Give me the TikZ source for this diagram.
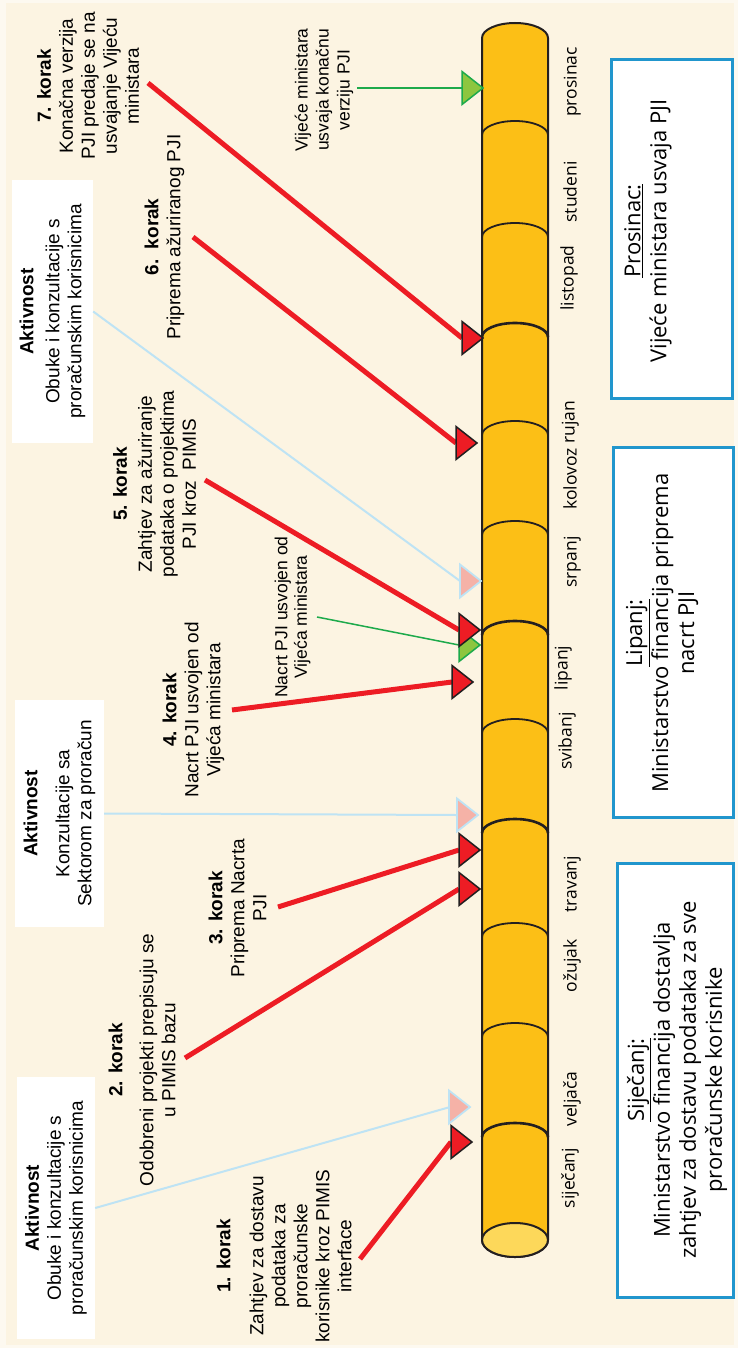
\documentclass[tikz,border=0pt]{standalone}
\usepackage{fontspec}
\setmainfont{Liberation Sans}
\newfontfamily\myr{Open Sans}
\definecolor{bgout}{HTML}{FDF9F0}
\definecolor{bg}{HTML}{FCF4E2}
\definecolor{cyl}{HTML}{FCBF16}
\definecolor{cylend}{HTML}{FDD85A}
\definecolor{dark}{HTML}{231F20}
\definecolor{myred}{HTML}{ED1C24}
\definecolor{mypink}{HTML}{F5B2A7}
\definecolor{lblue}{HTML}{BEE3F4}
\definecolor{mygreen}{HTML}{1DAA4B}
\definecolor{lgreen}{HTML}{8DC63F}
\definecolor{boxblue}{HTML}{2196CD}
\newcommand\tipat[2]{\path[#2] (#1) -- ++(-21,-16.5) -- ++(0,33) -- cycle;}
\tikzset{
 redline/.style={draw=myred, line width=5pt},
 blueline/.style={draw=lblue, line width=2pt},
 greenline/.style={draw=mygreen, line width=1.5pt},
 redtri/.style={fill=myred, draw=dark, line width=1.5pt, line join=miter},
 pinktri/.style={fill=mypink, draw=lblue, line width=1.8pt, line join=miter},
 greentri/.style={fill=lgreen, draw=mygreen, line width=1.5pt, line join=miter},
 lbl/.style={rotate=90, align=center, font=\fontsize{19}{22}\selectfont, inner sep=0pt},
 smalllbl/.style={rotate=90, align=center, font=\fontsize{17.5}{21}\selectfont, inner sep=0pt},
 month/.style={rotate=90, font=\myr\fontsize{17.5}{20}\selectfont, inner sep=0pt, text height=13pt, text depth=4pt},
 boxtxt/.style={rotate=90, align=center, font=\myr\fontsize{22}{26}\selectfont, inner sep=0pt},
 actbox/.style={rotate=90, align=center, fill=white, inner sep=0pt, font=\fontsize{19}{22}\selectfont},
 infobox/.style={rotate=90, draw=boxblue, line width=3pt, fill=white, inner sep=0pt},
 divider/.style={draw=dark, line width=1.8pt},
 qdivider/.style={draw=dark, line width=2.6pt},
}
\begin{document}
\begin{tikzpicture}[x=1pt,y=-1pt]
\useasboundingbox (0,0) rectangle (738,1348);
\fill[bgout] (0,0) rectangle (738,1348);
\fill[bg] (6,3) rectangle (734,1345);

% cylinder
\filldraw[fill=cyl, draw=dark, line width=2pt] (482,38) -- (482,1240)
  arc[start angle=180, end angle=360, x radius=33pt, y radius=17pt] -- (548,38)
  arc[start angle=0, end angle=180, x radius=33pt, y radius=15pt] -- cycle;
\filldraw[fill=cylend, draw=dark, line width=2pt] (515,1240) ellipse [x radius=33pt, y radius=17pt];
\foreach \yb in {135,237,435,535,733,937,1037}
  \draw[divider] (482,\yb) arc[start angle=180, end angle=0, x radius=33pt, y radius=14pt];
\foreach \yb in {337,635,833,1137}
  \draw[qdivider] (482,\yb) arc[start angle=180, end angle=0, x radius=33pt, y radius=14pt];

% months
\node[month] (m12) at (572,82) {prosinac};
\node[month] (m11) at (572,192) {studeni};
\node[month] (m10) at (569,278) {listopad};
\node[month] (m9) at (570,422) {rujan};
\node[month] (m8) at (572,479) {kolovoz};
\node[month] (m7) at (572,562) {srpanj};
\node[month] (m6) at (563,668) {lipanj};
\node[month] (m5) at (567,741) {svibanj};
\node[month] (m4) at (572,884) {travanj};
\node[month] (m3) at (572,966) {ožujak};
\node[month] (m2) at (572,1099) {veljača};
\node[month] (m1) at (570,1178) {siječanj};

% info boxes
\node[infobox, minimum width=434pt, minimum height=116pt] (bx1) at (675,1080) {};
\node[boxtxt] (bt1) at (677,1080) {\underline{Siječanj:}\\ Ministarstvo financija dostavlja\\ zahtjev za dostavu podataka za sve\\ proračunske korisnike};
\node[infobox, minimum width=370pt, minimum height=120pt] (bx2) at (673,632) {};
\node[boxtxt] (bt2) at (662,633) {\underline{Lipanj:}\\ Ministarstvo financija priprema\\ nacrt PJI};
\node[infobox, minimum width=338pt, minimum height=121pt] (bx3) at (671.5,229) {};
\node[boxtxt] (bt3) at (648,231) {\underline{Prosinac:}\\ Vijeće ministara usvaja PJI};

% activity boxes
\node[actbox, minimum width=262pt, minimum height=78pt] (a1) at (56,1208)
  {\textbf{Aktivnost}\\ Obuke i konzultacije s\\ proračunskim korisnicima};
\node[actbox, minimum width=227pt, minimum height=89pt] (a2) at (59.5,813.5)
  {\textbf{Aktivnost}\\[10pt] Konzultacije sa\\ Sektorom za proračun};
\node[actbox, minimum width=263pt, minimum height=81pt] (a3) at (52.5,311.5)
  {\textbf{Aktivnost}\\[4pt] Obuke i konzultacije s\\ proračunskim korisnicima};

% step labels
\node[lbl] (k1) at (284,1256) {\textbf{1. korak}\\[11pt] Zahtjev za dostavu\\ podataka za\\ proračunske\\ korisnike kroz PIMIS\\ interface};
\node[lbl] (k2) at (142,1060) {\textbf{2. korak}\\[9pt] Odobreni projekti prepisuju se\\ u PIMIS bazu};
\node[lbl] (k3) at (237.5,908) {\textbf{3. korak}\\ Priprema Nacrta\\ PJI};
\node[lbl] (k4) at (193.5,710) {\textbf{4. korak}\\ Nacrt PJI usvojen od\\ Vijeća ministara};
\node[lbl] (k5) at (154.5,484) {\textbf{5. korak}\\[3pt] Zahtjev za ažuriranje\\ podataka o projektima\\ PJI kroz\ \ PIMIS};
\node[lbl] (k6) at (164.5,237) {\textbf{6.\ \ korak}\\ Priprema ažuriranog PJI};
\node[lbl] (k7) at (88,86) {\textbf{7. korak}\\ Konačna verzija\\ PJI predaje se na\\ usvajanje Vijeću\\ ministara};
\node[smalllbl] (v1) at (324,90) {Vijeće ministara\\ usvaja konačnu\\ verziju PJI};
\node[smalllbl, font=\fontsize{17.5}{19.5}\selectfont] (v2) at (292.5,617) {Nacrt PJI usvojen od\\ Vijeća ministara};

% connector endpoints
\coordinate (s1) at (360,1259); \coordinate (t1) at (472,1142); \coordinate (b1) at (451,1142);
\coordinate (pt1) at (470,1107); \coordinate (pb1) at (450,1107);
\coordinate (s2) at (185,1058); \coordinate (t2) at (480,889); \coordinate (b2) at (459,889);
\coordinate (s3) at (278,907); \coordinate (t3) at (480,850); \coordinate (b3) at (459,850);
\coordinate (pt2) at (478,815); \coordinate (pb2) at (457,815);
\coordinate (s4) at (232,710); \coordinate (t4) at (473,682); \coordinate (b4) at (452,682);
\coordinate (sg1) at (317,617); \coordinate (gt1) at (480,645); \coordinate (gb1) at (459,645);
\coordinate (s5) at (205,480); \coordinate (t5) at (480,630); \coordinate (b5) at (459,630);
\coordinate (pt3) at (481,581); \coordinate (pb3) at (460,581);
\coordinate (s6) at (193,237); \coordinate (t6) at (477,443); \coordinate (b6) at (456,443);
\coordinate (s7) at (148,83); \coordinate (t7) at (483,338); \coordinate (b7) at (462,338);
\coordinate (sg2) at (357,88); \coordinate (gt2) at (483,88); \coordinate (gb2) at (462,88);

% light blue activity connectors
\draw[blueline] (a1.south) -- (pb1); \tipat{pt1}{pinktri}
\draw[blueline] (a2.south) -- (pb2); \tipat{pt2}{pinktri}
\draw[blueline] (a3.south) -- (pb3); \tipat{pt3}{pinktri}

% green connectors
\draw[greenline] (sg2) -- (gb2); \tipat{gt2}{greentri}
\draw[greenline] (sg1) -- (gb1); \tipat{gt1}{greentri}

% red step connectors
\draw[redline] (s1) -- (b1); \tipat{t1}{redtri}
\draw[redline] (s2) -- (b2); \tipat{t2}{redtri}
\draw[redline] (s3) -- (b3); \tipat{t3}{redtri}
\draw[redline] (s4) -- (b4); \tipat{t4}{redtri}
\draw[redline] (s5) -- (b5); \tipat{t5}{redtri}
\draw[redline] (s6) -- (b6); \tipat{t6}{redtri}
\draw[redline] (s7) -- (b7); \tipat{t7}{redtri}
\end{tikzpicture}
\end{document}
